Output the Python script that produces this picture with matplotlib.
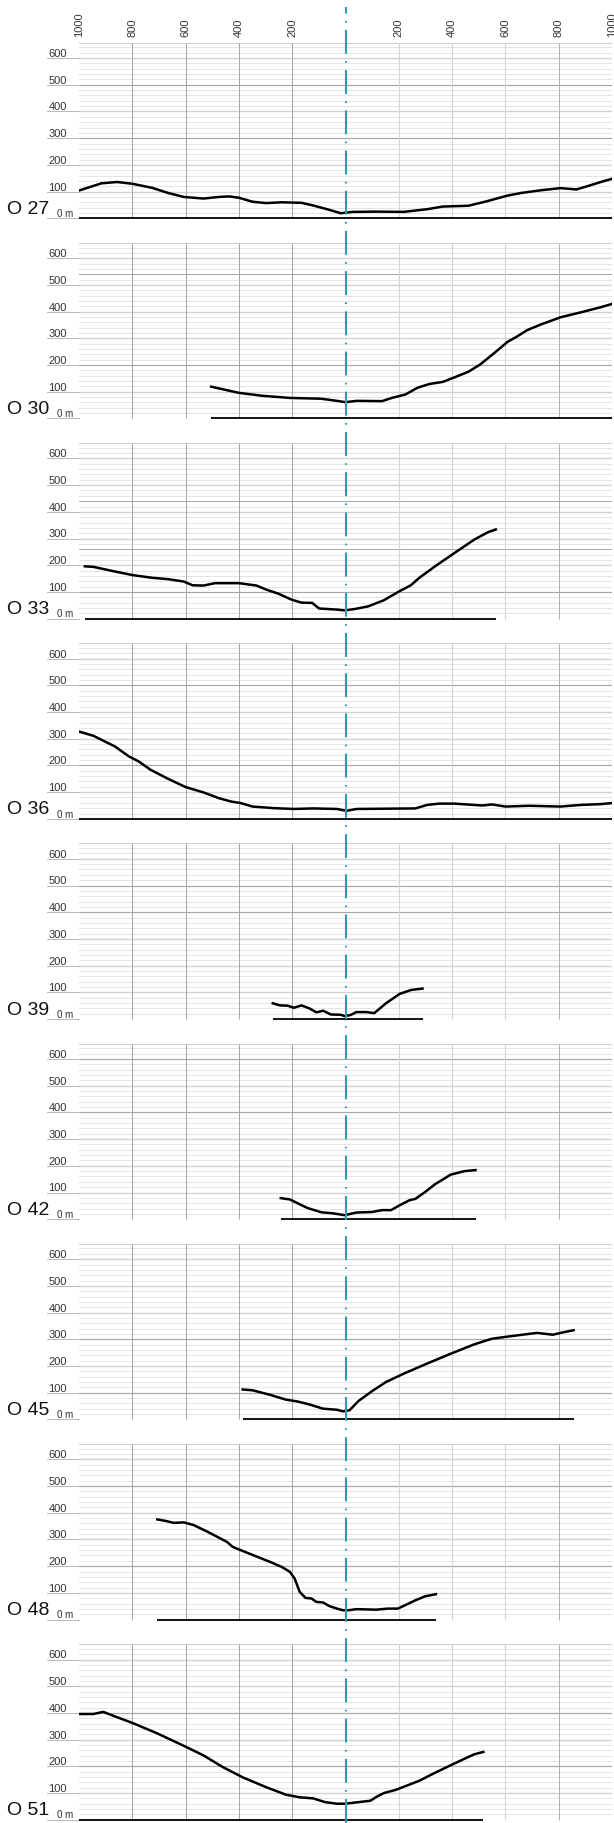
import matplotlib.pyplot as plt

plt.rcParams['font.family'] = ['Liberation Sans', 'DejaVu Sans']

# section names and profiles (distance from axis in m, height in m)
names = ["O 27", "O 30", "O 33", "O 36", "O 39", "O 42", "O 45", "O 48", "O 51"]

o27_x = [-1000, -916, -857, -798, -725, -666, -607, -533, -474, -437, -400, -349, -298, -239, -165, -121,
         -62, -18, 27, 115, 218, 306, 365, 461, 527, 608, 660, 733, 807, 866, 910, 955, 1000]
o27_h = [104, 131, 136, 129, 114, 95, 80, 74, 80, 82, 77, 62, 57, 60, 58, 48,
         32, 19, 24, 25, 24, 34, 44, 47, 63, 85, 95, 105, 113, 108, 121, 135, 148]

o30_x = [-504, -400, -312, -209, -91, -32, 0, 41, 137, 174, 225, 270, 314, 365, 409, 461, 505,
         557, 608, 642, 682, 733, 807, 881, 955, 1000]
o30_h = [119, 96, 85, 77, 74, 66, 61, 66, 65, 77, 90, 115, 129, 137, 154, 175, 202,
         244, 287, 306, 331, 352, 379, 397, 416, 429]

o33_x = [-978, -946, -872, -798, -725, -666, -607, -574, -533, -489, -400, -334, -298, -253, -202, -165,
         -125, -99, -32, -3, 34, 85, 144, 203, 245, 277, 336, 409, 483, 535, 564]
o33_h = [196, 194, 178, 163, 153, 148, 139, 125, 124, 133, 133, 124, 109, 94, 71, 60,
         59, 38, 34, 31, 36, 46, 69, 103, 125, 153, 196, 246, 296, 324, 334]

o36_x = [-1000, -946, -865, -813, -776, -732, -666, -600, -533, -474, -430, -393, -349, -268, -194, -121,
         -32, 4, 41, 262, 306, 350, 409, 513, 549, 601, 689, 807, 881, 955, 1000]
o36_h = [327, 311, 271, 234, 215, 184, 150, 119, 99, 77, 65, 59, 46, 40, 37, 39,
         37, 30, 37, 39, 52, 57, 57, 50, 54, 46, 49, 46, 52, 55, 59]

o39_x = [-273, -246, -217, -194, -165, -136, -109, -84, -55, -18, -3, 19, 41, 78, 108, 152, 203, 247, 289]
o39_h = [59, 51, 50, 42, 51, 40, 25, 31, 17, 16, 11, 15, 26, 26, 22, 59, 94, 109, 114]

o42_x = [-243, -209, -143, -91, -47, -3, 41, 100, 137, 171, 203, 240, 262, 299, 336, 395, 446, 488]
o42_h = [79, 74, 42, 26, 22, 15, 25, 27, 34, 34, 52, 71, 76, 102, 131, 167, 180, 184]

o45_x = [-386, -349, -283, -224, -180, -136, -84, -32, -10, 15, 49, 100, 152, 218, 306, 395, 483,
         549, 616, 719, 778, 807, 856]
o45_h = [112, 109, 92, 74, 67, 56, 40, 36, 30, 34, 69, 106, 140, 171, 209, 246, 281,
         302, 311, 324, 317, 324, 334]

o48_x = [-706, -673, -644, -607, -570, -518, -445, -423, -356, -283, -239, -209, -191, -172, -150,
         -128, -109, -84, -62, -32, -10, 12, 41, 115, 159, 196, 218, 262, 299, 339]
o48_h = [375, 369, 362, 364, 354, 329, 291, 272, 245, 216, 197, 179, 154, 104, 81,
         79, 66, 64, 51, 41, 35, 35, 39, 37, 41, 41, 51, 72, 87, 95]

o51_x = [-1000, -946, -909, -865, -798, -710, -607, -533, -460, -386, -298, -224, -172, -121, -77,
         -32, -3, 41, 93, 115, 144, 189, 233, 277, 328, 380, 439, 483, 517]
o51_h = [396, 396, 404, 387, 362, 325, 277, 241, 197, 159, 122, 94, 84, 80, 66,
         60, 60, 65, 71, 85, 100, 112, 129, 146, 172, 197, 225, 245, 254]

profiles_x = [o27_x, o30_x, o33_x, o36_x, o39_x, o42_x, o45_x, o48_x, o51_x]
profiles_h = [o27_h, o30_h, o33_h, o36_h, o39_h, o42_h, o45_h, o48_h, o51_h]

height_ticks = [100, 200, 300, 400, 500, 600]
dist_ticks = [-1000, -800, -600, -400, -200, 0, 200, 400, 600, 800, 1000]
dist_labels = ["1000", "800", "600", "400", "200", "", "200", "400", "600", "800", "1000"]
# darker scan lines that differ from sheet to sheet
dark_lines = [[500, 300], [540, 200], [440, 260, 100], [500, 200], [500, 400],
              [600, 400], [300, 100], [500, 200], [400, 200]]

W, H = 614, 1823
fig = plt.figure(figsize=(W / 100, H / 100), dpi=100)

left_px, right_px = 79, 612
base0, step = 218.3, 200.18
ylo, yhi = -8, 660
px_per_m = 0.267

for i in range(len(names)):
    base = base0 + step * i
    top = base - yhi * px_per_m
    bottom = base - ylo * px_per_m
    ax = fig.add_axes([left_px / W, 1 - bottom / H, (right_px - left_px) / W, (bottom - top) / H])
    ax.set_xlim(-1000, 1000)
    ax.set_ylim(ylo, yhi)
    for s in ax.spines.values():
        s.set_visible(False)
    ax.set_yticks([])

    # horizontal grid, every 20 m
    for v in range(20, yhi, 20):
        if v % 100 == 0:
            ax.axhline(v, color="#d2d2d2", lw=1.0, zorder=0)
        else:
            ax.axhline(v, color="#e0e0e0", lw=0.6, zorder=0)
    for v in dark_lines[i]:
        ax.axhline(v, color="#a6a6a6", lw=0.7, zorder=0)
    ax.axhline(yhi - 2, color="#d0d0d0", lw=0.8, zorder=0)

    # vertical grid
    for d in [-800, -600, -400, -200]:
        ax.vlines(d, 0, yhi - 2, color="#a4a4a4", lw=0.7, zorder=0)
    for d in [200, 400, 600]:
        ax.vlines(d, 0, yhi - 2, color="#d4d4d4", lw=0.8, zorder=0)
    ax.vlines(800, 0, yhi - 2, color="#b0b0b0", lw=0.7, zorder=0)

    # height labels
    yt = ax.get_yaxis_transform()
    for v in height_ticks:
        ax.text(-0.0225, v + 4, str(v), transform=yt, ha="right", va="baseline",
                fontsize=8, color="#333333")
        ax.plot([-0.06, 0], [v, v], transform=yt, clip_on=False, color="#b8b8b8", lw=0.7)
    ax.text(-0.011, 5, "0 m", transform=yt, ha="right", va="baseline", fontsize=7, color="#333333")
    ax.plot([-0.06, 0], [0, 0], transform=yt, clip_on=False, color="#b8b8b8", lw=0.7)

    ax.text(-0.135, 0.062, names[i], transform=ax.transAxes, ha="left", va="center",
            fontsize=14, color="#111111")

    # profile and ground line
    xs = profiles_x[i]
    hs = profiles_h[i]
    ax.plot([min(xs), max(xs)], [0, 0], color="black", lw=1.3, solid_capstyle="butt", zorder=3)
    ax.plot(xs, hs, color="black", lw=1.8, solid_joinstyle="round", zorder=4)

    if i == 0:
        ax.xaxis.set_ticks_position("top")
        ax.set_xticks(dist_ticks)
        ax.set_xticklabels(dist_labels, rotation=90, fontsize=8, color="#333333")
        ax.tick_params(axis="x", length=0, pad=3.5)
    else:
        ax.set_xticks([])

# centre line through all sections
ov = fig.add_axes([left_px / W, 0, (right_px - left_px) / W, 1 - 7 / H])
ov.set_xlim(-1000, 1000)
ov.set_ylim(0, 1)
ov.axis("off")
ov.axvline(0, color="#2a9fb0", lw=1.5, ls=(0, (11.5, 3.5, 0.8, 3.5)))

fig.savefig("out.png", dpi=100)
